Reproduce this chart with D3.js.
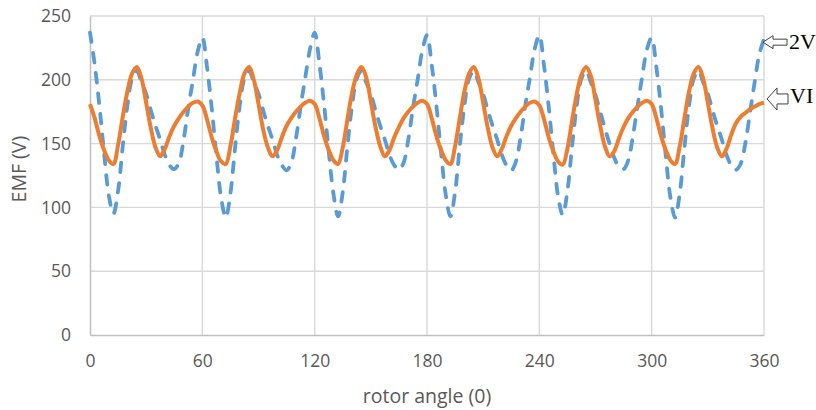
<!DOCTYPE html>
<html>
<head>
<meta charset="utf-8">
<script src="https://cdn.jsdelivr.net/npm/d3@7"></script>
<style>
  body { margin: 0; background: #fff; }
  .tick text { font-family: 'Open Sans', sans-serif; font-size: 17.5px; fill: #595959; }
  .axisTitle { font-family: 'Open Sans', sans-serif; font-size: 19.5px; fill: #595959; }
  .seriesLabel { font-family: 'Liberation Serif', 'Times New Roman', serif; font-size: 22px; fill: #000; }
</style>
</head>
<body>
<div id="chart"></div>
<script>
// sample grid: rotor angle every 2.5 degrees, 0..360
const angles = d3.range(0, 362.5, 2.5);

// VI (orange solid), one row per 60 degree period
const viValues = [
  181, 170, 156, 145, 137, 134, 149, 171, 191, 205, 210, 201, 182, 162, 147, 140, 146, 156, 164, 170, 175, 179, 182, 183,
  180, 169, 155, 144, 136, 134, 148, 170, 190, 205, 210, 200, 181, 161, 147, 140, 145, 155, 164, 170, 175, 179, 182, 183.5,
  181, 170, 156, 145, 137, 134, 147, 169, 190, 204, 210, 202, 183, 163, 148, 140, 145, 155, 163, 170, 175, 179, 182, 183.5,
  181, 170, 156, 145, 137, 134, 148, 170, 191, 205, 210, 201, 182, 162, 147, 140, 146, 156, 164, 170, 175, 179, 182, 183,
  180, 169, 155, 144, 136, 133.5, 146, 168, 189, 204, 210, 203, 184, 164, 148, 140, 144, 154, 163, 170, 175, 179, 182, 183.5,
  181, 170, 156, 145, 137, 134, 148, 170, 191, 205, 210, 201, 182, 162, 147, 140, 146, 157, 166, 171, 174, 177, 179, 181,
  182
];

// 2V (blue dashed)
const twoVValues = [
  237, 212, 180, 143, 110, 95, 113, 148, 180, 201, 207, 198, 189, 176, 164, 153, 141, 133, 130, 135, 153, 178, 200, 222,
  233, 210, 178, 141, 108, 92, 111, 147, 180, 201, 207, 198, 189, 176, 164, 153, 141, 133, 129, 135, 154, 179, 202, 224,
  237, 213, 181, 144, 111, 93, 112, 148, 180, 201, 207, 198, 189, 176, 164, 153, 141, 133, 129.5, 135, 153, 178, 200, 223,
  235, 212, 180, 143, 110, 93, 112, 148, 180, 201, 207, 198, 189, 176, 164, 153, 141, 133, 129, 136, 155, 180, 202, 224,
  235, 211, 179, 142, 109, 94, 113, 148, 180, 201, 207, 198, 188, 175, 162, 150, 139, 132, 130, 137, 156, 180, 203, 224,
  233, 210, 178, 141, 108, 92, 111, 147, 180, 201, 207, 198, 189, 176, 164, 153, 141, 133, 129.5, 134, 150, 174, 198, 220,
  232
];

const xTicks = [0, 60, 120, 180, 240, 300, 360];
const yTicks = [0, 50, 100, 150, 200, 250];

const width = 816;
const height = 410;
const margins = { top: 16, right: 52, bottom: 75, left: 90 };

const svg = d3.select('#chart').append('svg')
  .attr('width', width)
  .attr('height', height);

const xScale = d3.scaleLinear()
  .domain([0, 360])
  .range([margins.left, width - margins.right]);

const yScale = d3.scaleLinear()
  .domain([0, 250])
  .range([height - margins.bottom, margins.top]);

// gridlines
svg.append('g')
  .selectAll('line.hgrid')
  .data(yTicks.slice(1))
  .join('line')
  .attr('x1', xScale(0))
  .attr('x2', xScale(360))
  .attr('y1', d => yScale(d))
  .attr('y2', d => yScale(d))
  .style('stroke', '#d9d9d9')
  .style('stroke-width', 1.4);

svg.append('g')
  .selectAll('line.vgrid')
  .data(xTicks.slice(1))
  .join('line')
  .attr('x1', d => xScale(d))
  .attr('x2', d => xScale(d))
  .attr('y1', yScale(0))
  .attr('y2', yScale(250))
  .style('stroke', '#d9d9d9')
  .style('stroke-width', 1.4);

// axes
const xAxis = d3.axisBottom(xScale)
  .tickValues(xTicks)
  .tickSize(0)
  .tickPadding(20);

const xLabel = svg.append('g')
  .attr('transform', `translate(0,${yScale(0)})`)
  .call(xAxis);
xLabel.select('.domain').style('stroke', '#bfbfbf').style('stroke-width', 1.5);

const yAxis = d3.axisLeft(yScale)
  .tickValues(yTicks)
  .tickSize(0)
  .tickPadding(19);

const yLabel = svg.append('g')
  .attr('transform', `translate(${xScale(0)},0)`)
  .call(yAxis);
yLabel.select('.domain').style('stroke', '#bfbfbf').style('stroke-width', 1.5);

svg.append('text')
  .attr('class', 'axisTitle')
  .attr('x', xScale(180))
  .attr('y', 403)
  .style('text-anchor', 'middle')
  .text('rotor angle (0)');

svg.append('text')
  .attr('class', 'axisTitle')
  .attr('transform', `translate(26,${yScale(130)}) rotate(-90)`)
  .style('text-anchor', 'middle')
  .text('EMF (V)');

// lines
const line = d3.line()
  .x((d, i) => xScale(angles[i]))
  .y(d => yScale(d))
  .curve(d3.curveCatmullRom);

svg.append('path')
  .datum(twoVValues)
  .attr('d', line)
  .style('fill', 'none')
  .style('stroke', '#5b9bd5')
  .style('stroke-width', 3.8)
  .style('stroke-linecap', 'round')
  .style('stroke-dasharray', '9.5,11');

svg.append('path')
  .datum(viValues)
  .attr('d', line)
  .style('fill', 'none')
  .style('stroke', '#ed7d31')
  .style('stroke-width', 4)
  .style('stroke-linejoin', 'round');

// series labels with outlined block arrows
function blockArrow(tipX, tipY, headLen, headHalf, shaftHalf, totalLen) {
  return `M${tipX},${tipY}` +
    `L${tipX + headLen},${tipY - headHalf}` +
    `L${tipX + headLen},${tipY - shaftHalf}` +
    `L${tipX + totalLen},${tipY - shaftHalf}` +
    `L${tipX + totalLen},${tipY + shaftHalf}` +
    `L${tipX + headLen},${tipY + shaftHalf}` +
    `L${tipX + headLen},${tipY + headHalf}Z`;
}

const x360 = xScale(360);

svg.append('path')
  .attr('d', blockArrow(x360 - 1, yScale(229.5), 10, 6.5, 3, 24))
  .style('fill', '#fff')
  .style('stroke', '#404040')
  .style('stroke-width', 1);

svg.append('text')
  .attr('class', 'seriesLabel')
  .attr('x', x360 + 25)
  .attr('y', yScale(224))
  .text('2V');

svg.append('path')
  .attr('d', blockArrow(x360 + 3, yScale(185), 10, 11, 5, 21))
  .style('fill', '#fff')
  .style('stroke', '#404040')
  .style('stroke-width', 1);

svg.append('text')
  .attr('class', 'seriesLabel')
  .attr('x', x360 + 26)
  .attr('y', yScale(182))
  .text('VI');
</script>
</body>
</html>
